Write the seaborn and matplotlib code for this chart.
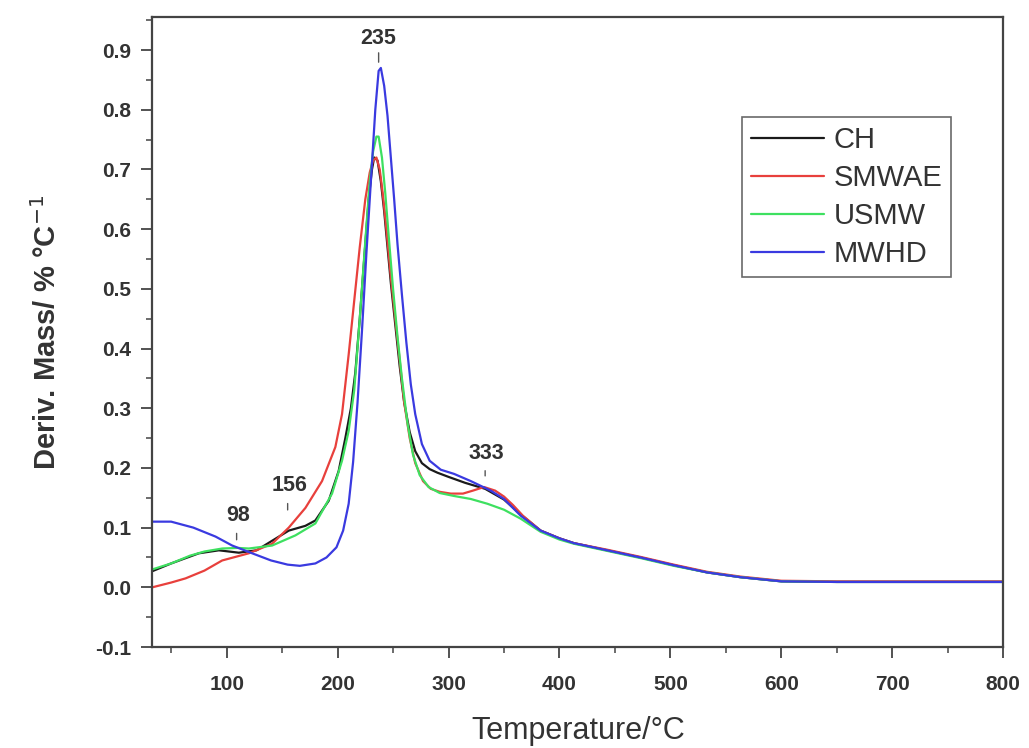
import matplotlib
matplotlib.use("Agg")
import matplotlib.pyplot as plt
from matplotlib.ticker import MultipleLocator
import numpy as np
import pandas as pd
import seaborn as sns

# DTG curves (temperature in degC, deriv. mass in %/degC)
T_ch = [33, 50, 75, 93, 111, 127, 141, 156, 171, 180, 192, 201, 207, 212, 216, 220, 224, 228, 231, 233,
        236, 239, 242, 245, 248, 252, 256, 260, 265, 270, 276, 283, 290, 300, 315, 333, 350, 365, 383,
        400, 413, 443, 473, 503, 533, 563, 600, 650, 700, 750, 800]
CH = [0.027, 0.04, 0.057, 0.062, 0.058, 0.062, 0.078, 0.095, 0.103, 0.112, 0.145, 0.195, 0.25, 0.3, 0.36,
      0.45, 0.55, 0.65, 0.70, 0.72, 0.715, 0.68, 0.63, 0.57, 0.51, 0.44, 0.37, 0.31, 0.26, 0.228, 0.208,
      0.198, 0.192, 0.185, 0.175, 0.165, 0.147, 0.122, 0.095, 0.082, 0.074, 0.062, 0.05, 0.037, 0.025,
      0.017, 0.01, 0.009, 0.009, 0.009, 0.009]

T_sm = [33, 50, 63, 80, 96, 110, 120, 141, 156, 171, 186, 198, 204, 210, 215, 220, 225, 229, 232, 235,
        238, 241, 244, 248, 252, 256, 260, 265, 270, 277, 284, 292, 302, 313, 322, 332, 342, 350, 358,
        367, 383, 400, 413, 443, 473, 503, 533, 563, 600, 650, 700, 750, 800]
SMWAE = [0.0, 0.008, 0.015, 0.028, 0.045, 0.052, 0.057, 0.073, 0.1, 0.133, 0.178, 0.235, 0.29, 0.39,
         0.48, 0.57, 0.65, 0.695, 0.715, 0.72, 0.70, 0.655, 0.60, 0.52, 0.45, 0.38, 0.31, 0.25, 0.208,
         0.178, 0.165, 0.16, 0.157, 0.157, 0.162, 0.168, 0.162, 0.152, 0.138, 0.12, 0.095, 0.082, 0.074,
         0.063, 0.051, 0.038, 0.026, 0.018, 0.011, 0.01, 0.01, 0.01, 0.01]

T_us = [33, 50, 67, 80, 96, 110, 120, 141, 162, 180, 195, 204, 210, 215, 220, 225, 229, 232, 235, 237,
        240, 243, 246, 250, 254, 258, 263, 268, 274, 282, 292, 305, 320, 335, 350, 365, 383, 400, 413,
        443, 473, 503, 533, 563, 600, 650, 700, 750, 800]
USMW = [0.03, 0.04, 0.053, 0.06, 0.065, 0.066, 0.065, 0.07, 0.087, 0.107, 0.157, 0.212, 0.262, 0.33,
        0.45, 0.58, 0.68, 0.73, 0.755, 0.755, 0.72, 0.66, 0.59, 0.50, 0.42, 0.35, 0.275, 0.222, 0.188,
        0.168, 0.158, 0.153, 0.148, 0.14, 0.13, 0.115, 0.093, 0.08, 0.073, 0.061, 0.049, 0.036, 0.025,
        0.017, 0.01, 0.009, 0.009, 0.009, 0.009]

T_mw = [33, 50, 70, 90, 105, 123, 140, 155, 166, 180, 190, 199, 205, 210, 214, 218, 222, 226, 230, 234,
        237, 239, 242, 245, 248, 251, 254, 258, 262, 266, 270, 276, 283, 293, 305, 320, 338, 350, 365,
        383, 400, 413, 443, 473, 503, 533, 563, 600, 650, 700, 750, 800]
MWHD = [0.11, 0.11, 0.1, 0.085, 0.07, 0.057, 0.045, 0.038, 0.036, 0.04, 0.05, 0.067, 0.095, 0.14, 0.21,
        0.31, 0.43, 0.56, 0.68, 0.80, 0.865, 0.87, 0.84, 0.79, 0.72, 0.65, 0.575, 0.49, 0.41, 0.34, 0.29,
        0.24, 0.212, 0.197, 0.19, 0.178, 0.162, 0.148, 0.12, 0.095, 0.082, 0.074, 0.062, 0.05, 0.037,
        0.025, 0.017, 0.01, 0.009, 0.009, 0.009, 0.009]

samples = ["CH", "SMWAE", "USMW", "MWHD"]
colors = {"CH": "#1a1a1a", "SMWAE": "#e8403c", "USMW": "#3ee060", "MWHD": "#3a3ae0"}

# peak labels: text, text position, tick line start/end
peak_labels = ["235", "98", "156", "333"]
peak_text_xy = [(237, 0.92), (110, 0.12), (157, 0.17), (334, 0.225)]
peak_tick = [((237, 0.900), (237, 0.875)), ((109, 0.095), (109, 0.075)),
             ((155, 0.145), (155, 0.125)), ((333, 0.2), (333, 0.182))]

frames = []
for name, t, v in [("CH", T_ch, CH), ("SMWAE", T_sm, SMWAE), ("USMW", T_us, USMW), ("MWHD", T_mw, MWHD)]:
    frames.append(pd.DataFrame({"T": t, "dm": v, "sample": name}))
df = pd.concat(frames, ignore_index=True)

sns.set_theme(style="ticks")
plt.rcParams["font.family"] = ["Liberation Sans", "DejaVu Sans"]

fig = plt.figure(figsize=(10.29, 7.48), dpi=100)
ax = fig.add_axes([0.148, 0.135, 0.827, 0.842])

sns.lineplot(data=df, x="T", y="dm", hue="sample", hue_order=samples, palette=colors,
             estimator=None, sort=True, linewidth=1.6, ax=ax)

ax.set_xlim(33, 800)
ax.set_ylim(-0.1, 0.955)
ax.xaxis.set_major_locator(MultipleLocator(100))
ax.xaxis.set_minor_locator(MultipleLocator(50))
ax.yaxis.set_minor_locator(MultipleLocator(0.05))
yt = np.round(np.arange(-0.1, 0.95, 0.1), 1)
ax.set_yticks(yt)
ax.set_yticklabels([f"{v:.1f}" for v in yt])

for s in ax.spines.values():
    s.set_color("#444444")
    s.set_linewidth(1.6)
ax.tick_params(which="major", direction="out", length=8, width=1.3, color="#444444", labelsize=15)
ax.tick_params(axis="x", which="major", pad=12)
ax.tick_params(axis="y", which="major", pad=7)
ax.tick_params(which="minor", direction="out", length=4.5, width=1.1, color="#444444")
for lab in ax.get_xticklabels() + ax.get_yticklabels():
    lab.set_fontweight("bold")
    lab.set_color("#333333")

ax.set_xlabel("Temperature/°C", fontsize=22, color="#333333", labelpad=16)
ax.set_ylabel("Deriv. Mass/ % °C$^{-1}$", fontsize=21, fontweight="bold", color="#333333", labelpad=24)

for lab, xy, (p0, p1) in zip(peak_labels, peak_text_xy, peak_tick):
    ax.text(xy[0], xy[1], lab, ha="center", va="center", fontsize=15.5, fontweight="bold", color="#333333")
    ax.annotate("", xy=p1, xytext=p0, arrowprops=dict(arrowstyle="-", color="#555555", lw=1))

handles, labels = ax.get_legend_handles_labels()
leg = ax.legend(handles, labels, loc="upper right", bbox_to_anchor=(0.939, 0.841), fontsize=21,
                frameon=True, fancybox=False, edgecolor="#444444", handlelength=2.5,
                labelspacing=0.34, borderpad=0.3, handletextpad=0.35, borderaxespad=0)
leg.get_frame().set_linewidth(1.2)
for txt in leg.get_texts():
    txt.set_color("#333333")

fig.savefig("out.png", dpi=100)
